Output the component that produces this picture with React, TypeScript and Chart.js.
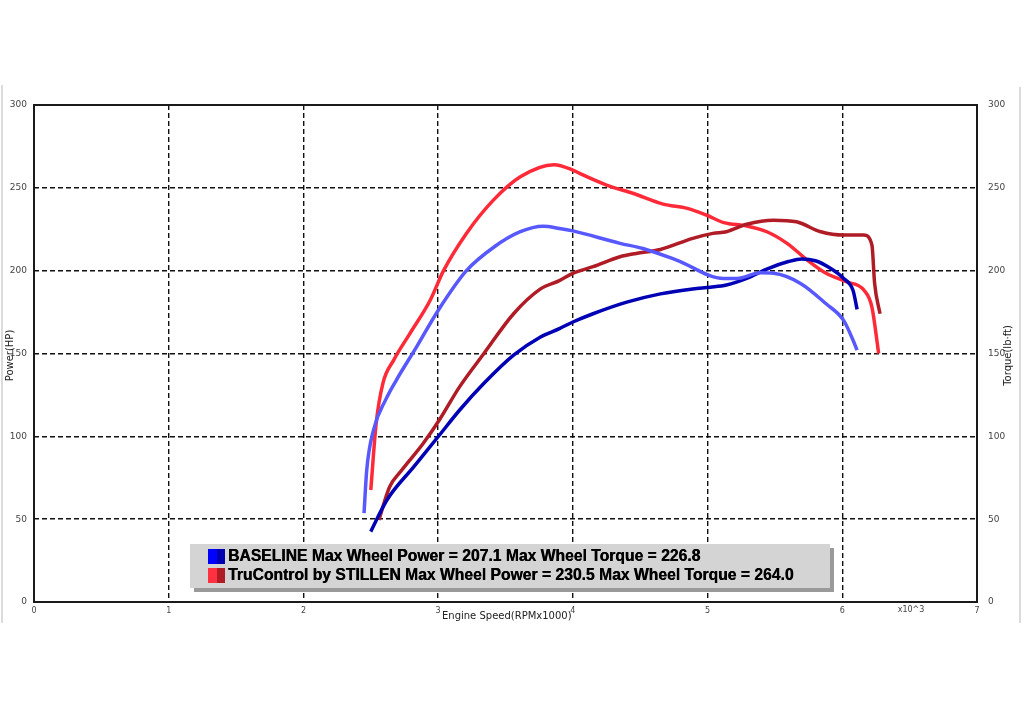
import React, { useEffect, useRef } from "react";
import { Chart, registerables } from "chart.js";
import type { Plugin } from "chart.js";

Chart.register(...registerables);

// engine speed (RPM x1000) and values
const baselinePowerRpm = [2.5, 2.62, 2.82, 3.01, 3.16, 3.34, 3.56, 3.76, 3.9, 4.0, 4.15, 4.4, 4.65, 4.89, 5.02, 5.14, 5.29, 5.44, 5.6, 5.7, 5.8, 5.9, 6.01, 6.08, 6.11];
const baselinePower = [42.5, 61.6, 81.7, 100.8, 115.9, 132, 149, 160, 165, 169, 174, 181, 186, 189, 190, 191.3, 195.3, 201, 205.5, 207.1, 206, 202, 195.3, 188, 176.6];

const baselineTorqueRpm = [2.45, 2.47, 2.52, 2.61, 2.69, 2.84, 3.0, 3.21, 3.41, 3.61, 3.78, 3.9, 4.0, 4.35, 4.52, 4.77, 5.12, 5.22, 5.39, 5.49, 5.69, 5.88, 6.01, 6.08, 6.11];
const baselineTorque = [53.7, 79.7, 103.8, 122, 134, 154, 176, 200, 214, 223.5, 226.8, 225.5, 224, 216.5, 213.4, 206.4, 195.3, 195.3, 198.7, 198.4, 192.3, 180, 170, 158, 152];

const stillenPowerRpm = [2.56, 2.64, 2.72, 2.89, 3.01, 3.16, 3.34, 3.56, 3.76, 3.9, 4.0, 4.15, 4.35, 4.47, 4.65, 4.89, 5.04, 5.14, 5.29, 5.49, 5.66, 5.84, 6.01, 6.16, 6.22, 6.24, 6.28];
const stillenPower = [49.5, 69.6, 78.6, 95.8, 110, 130, 150, 174, 189, 194, 198.4, 202.4, 208.4, 210.4, 212.8, 219.5, 222.5, 223.5, 228, 230.5, 229.5, 223.5, 221.5, 221.5, 215.5, 192.3, 174];

const stillenTorqueRpm = [2.5, 2.54, 2.59, 2.67, 2.79, 2.94, 3.04, 3.21, 3.41, 3.61, 3.86, 4.0, 4.05, 4.25, 4.45, 4.67, 4.85, 4.99, 5.12, 5.29, 5.44, 5.59, 5.74, 5.88, 6.03, 6.16, 6.22, 6.27];
const stillenTorque = [67.6, 107.8, 132, 146, 162, 182, 200, 222.5, 242.6, 256.7, 264.0, 260.7, 258.7, 251.7, 246.6, 240.2, 237.6, 233.6, 229, 227, 223.5, 216.5, 206.4, 198.4, 193.3, 188.3, 178, 150];

const legendLines = [
  "BASELINE Max Wheel Power = 207.1 Max Wheel Torque = 226.8",
  "TruControl by STILLEN Max Wheel Power = 230.5 Max Wheel Torque = 264.0",
];
const legendSwatches = [
  ["#0000ff", "#0000b0"],
  ["#ff3040", "#b01c24"],
];

const FONT = "'DejaVu Sans', sans-serif";

const toPoints = (xs: number[], ys: number[]) => xs.map((x, i) => ({ x, y: ys[i] }));

// frame, titles and the boxed legend
const decorPlugin: Plugin<"line"> = {
  id: "dynoDecor",
  beforeDatasetsDraw: (chart) => {
    const { ctx, chartArea } = chart;
    ctx.save();
    // faint scan edges
    ctx.strokeStyle = "#cfcfcf";
    ctx.lineWidth = 1.5;
    ctx.beginPath();
    ctx.moveTo(2, 85);
    ctx.lineTo(2, 623);
    ctx.moveTo(1020, 87);
    ctx.lineTo(1020, 623);
    ctx.stroke();
    // plot frame
    ctx.strokeStyle = "#1a1a1a";
    ctx.lineWidth = 2;
    ctx.strokeRect(chartArea.left, chartArea.top, chartArea.right - chartArea.left, chartArea.bottom - chartArea.top);
    ctx.restore();
  },
  afterDraw: (chart) => {
    const { ctx, chartArea } = chart;
    const midY = (chartArea.top + chartArea.bottom) / 2;
    ctx.save();
    ctx.fillStyle = "#222";
    ctx.textBaseline = "middle";
    ctx.textAlign = "center";
    ctx.font = `10px ${FONT}`;

    ctx.save();
    ctx.translate(10, midY + 2);
    ctx.rotate(-Math.PI / 2);
    ctx.fillText("Power(HP)", 0, 0);
    ctx.restore();

    ctx.save();
    ctx.translate(1008, midY + 2);
    ctx.rotate(-Math.PI / 2);
    ctx.fillText("Torque(lb·ft)", 0, 0);
    ctx.restore();

    ctx.textAlign = "left";
    ctx.fillText("Engine Speed(RPMx1000)", 442, 616);
    ctx.font = `8px ${FONT}`;
    ctx.fillStyle = "#444";
    ctx.textAlign = "center";
    ctx.fillText("x10^3", 911, 610);

    // legend box with drop shadow
    const bx = 190, by = 544, bw = 640, bh = 44;
    ctx.fillStyle = "#9a9a9a";
    ctx.fillRect(bx + 4, by + 4, bw, bh);
    ctx.fillStyle = "#d4d4d4";
    ctx.fillRect(bx, by, bw, bh);

    legendLines.forEach((text, i) => {
      const cy = 556 + i * 19;
      const [c1, c2] = legendSwatches[i];
      ctx.fillStyle = c1;
      ctx.fillRect(208, cy - 7, 9, 15);
      ctx.fillStyle = c2;
      ctx.fillRect(217, cy - 7, 8, 15);
      ctx.fillStyle = "#000";
      ctx.textAlign = "left";
      ctx.font = `bold 15.7px 'Liberation Sans', Arial, sans-serif`;
      ctx.fillText(text, 228, cy + 1);
      // slight second pass for the heavier print look
      ctx.fillText(text, 228.4, cy + 1);
    });
    ctx.restore();
  },
};

const gridColor = (edgeMax: number) => (c: any) =>
  c.tick && (c.tick.value === 0 || c.tick.value === edgeMax) ? "rgba(0,0,0,0)" : "#111";

const App: React.FC = () => {
  const canvasRef = useRef<HTMLCanvasElement | null>(null);
  const chartRef = useRef<Chart | null>(null);

  useEffect(() => {
    const canvas = canvasRef.current;
    if (!canvas) return;
    if (chartRef.current) chartRef.current.destroy();

    const lineStyle = {
      pointRadius: 0,
      borderWidth: 3.5,
      cubicInterpolationMode: "monotone" as const,
      fill: false,
    };

    chartRef.current = new Chart(canvas, {
      type: "line",
      data: {
        datasets: [
          { ...lineStyle, label: "Baseline torque", data: toPoints(baselineTorqueRpm, baselineTorque), borderColor: "#5858ff", yAxisID: "y1" },
          { ...lineStyle, label: "Baseline power", data: toPoints(baselinePowerRpm, baselinePower), borderColor: "#0000b4", yAxisID: "y" },
          { ...lineStyle, label: "Stillen power", data: toPoints(stillenPowerRpm, stillenPower), borderColor: "#b01c26", yAxisID: "y" },
          { ...lineStyle, label: "Stillen torque", data: toPoints(stillenTorqueRpm, stillenTorque), borderColor: "#ff2a38", yAxisID: "y1" },
        ],
      },
      options: {
        responsive: false,
        animation: false,
        layout: { padding: { top: 105, left: 0, right: 0, bottom: 0 } },
        plugins: { legend: { display: false }, tooltip: { enabled: false } },
        scales: {
          x: {
            type: "linear",
            min: 0,
            max: 7,
            ticks: { stepSize: 1, color: "#444", font: { size: 8, family: FONT }, padding: 4 },
            grid: { color: gridColor(7), lineWidth: 1.4, drawTicks: false },
            border: { display: false, dash: [5, 3] },
            afterFit: (s: any) => {
              s.height = 109;
            },
          },
          y: {
            position: "left",
            min: 0,
            max: 300,
            ticks: { stepSize: 50, color: "#444", font: { size: 9, family: FONT }, padding: 7 },
            grid: { color: gridColor(300), lineWidth: 1.4, drawTicks: false },
            border: { display: false, dash: [5, 3] },
            afterFit: (s: any) => {
              s.width = 34;
            },
          },
          y1: {
            position: "right",
            min: 0,
            max: 300,
            ticks: { stepSize: 50, color: "#444", font: { size: 9, family: FONT }, padding: 11 },
            grid: { drawOnChartArea: false, drawTicks: false },
            border: { display: false },
            afterFit: (s: any) => {
              s.width = 47;
            },
          },
        },
      },
      plugins: [decorPlugin],
    });

    return () => {
      if (chartRef.current) {
        chartRef.current.destroy();
        chartRef.current = null;
      }
    };
  }, []);

  return (
    <div style={{ position: "fixed", left: 0, top: 0, width: 1024, height: 711, background: "#fff" }}>
      <canvas ref={canvasRef} width={1024} height={711} style={{ display: "block" }} />
    </div>
  );
};

export default App;
